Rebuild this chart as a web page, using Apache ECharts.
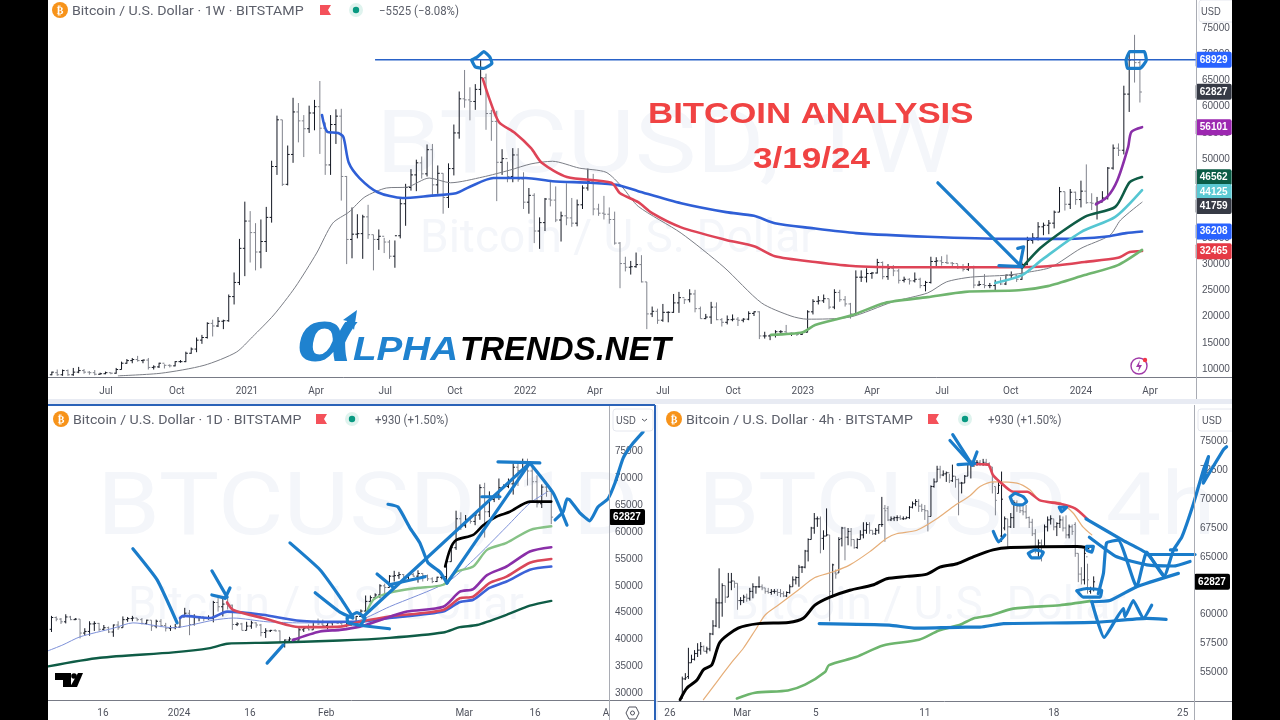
<!DOCTYPE html>
<html>
<head>
<meta charset="utf-8">
<title>Bitcoin analysis</title>
<script src="https://cdn.jsdelivr.net/npm/echarts@6/dist/echarts.min.js"></script>
<style>
  html, body { margin: 0; background: #000; }
  #main { width: 1280px; height: 720px; }
</style>
</head>
<body>
<div id="main"></div>
<script>
// bars are [open, close, low, high] in thousands of USD
// weekly, first row is the week of 27 Apr 2020
const weekBars = [
[8.9,9.4,8.8,9.5],[9.3,8.9,8.7,9.9],[8.9,9.7,8.7,9.9],[9.7,8.9,8.7,9.9],[8.9,9.4,8.7,10.2],[9.4,9.7,9.2,10.4],[9.7,9.4,9.1,10.0],[9.4,9.3,8.9,9.6],[9.3,9.0,8.8,9.8],
[9.0,9.1,8.9,9.3],[9.1,9.3,9.0,9.5],[9.3,9.2,9.0,9.3],[9.2,9.9,9.1,10.2],[9.9,11.1,9.9,11.4],[11.1,11.6,11.0,11.9],[11.6,11.8,11.1,12.1],[11.8,11.6,11.4,12.5],[11.6,11.7,11.1,11.8],[11.7,10.3,9.9,12.1],
[10.3,10.4,9.9,10.7],[10.4,11.1,10.2,11.2],[11.1,10.7,10.1,10.9],[10.7,10.6,10.3,10.9],[10.6,11.4,10.5,11.5],[11.4,11.4,11.2,11.7],[11.4,13.0,11.3,13.3],[13.0,13.8,12.9,14.1],
[13.8,15.5,13.2,16.0],[15.5,16.0,14.8,16.5],[16.0,18.7,15.8,18.9],[18.7,18.2,16.2,19.4],[18.2,19.1,18.0,19.9],[19.1,19.2,17.6,19.4],[19.2,23.8,19.0,24.2],[23.8,26.5,22.3,28.4],[26.5,33.0,26.0,34.8],
[33.0,38.2,27.7,41.9],[38.2,36.0,30.3,40.1],[36.0,32.3,28.8,37.8],[32.3,34.3,29.2,38.5],[34.3,38.9,32.3,40.9],[38.9,48.6,37.9,49.7],[48.6,57.5,47.0,58.3],[57.5,45.2,44.9,57.5],
[45.2,50.9,45.0,52.6],[50.9,59.0,49.3,61.7],[59.0,57.3,53.2,60.7],[57.3,55.8,50.4,58.4],[55.8,58.8,55.0,60.2],[58.8,60.0,55.5,61.3],[60.0,55.9,51.0,64.9],[55.9,48.9,47.0,57.0],[48.9,56.6,47.0,58.4],
[56.6,58.2,52.9,59.5],[58.2,46.7,42.1,59.6],[46.7,34.7,30.0,46.8],[34.7,35.7,31.1,40.8],[35.7,35.8,34.9,39.5],[35.8,39.0,31.0,39.4],[39.0,35.6,34.8,41.3],[35.6,34.7,28.8,35.6],[34.7,35.3,32.7,36.6],
[35.3,34.2,32.1,35.0],[34.2,31.5,31.0,34.6],[31.5,35.4,29.3,34.5],[35.4,41.5,34.9,42.4],[41.5,44.6,37.3,45.3],[44.6,47.0,44.0,48.1],[47.0,49.3,43.9,49.9],[49.3,47.2,46.3,50.5],[47.2,51.8,46.7,52.8],
[51.8,45.1,42.8,52.9],[45.1,47.3,43.4,48.8],[47.3,42.7,39.6,47.3],[42.7,48.2,40.7,49.2],[48.2,55.0,46.9,56.6],[55.0,61.5,53.9,62.9],[61.5,61.3,59.8,67.0],[61.3,61.0,57.4,63.7],
[61.0,63.3,59.4,64.3],[63.3,65.5,62.2,69.0],[65.5,58.7,55.6,66.3],[58.7,57.2,53.5,59.4],[57.2,49.4,42.0,59.2],[49.4,50.1,47.0,51.9],[50.1,46.7,45.6,49.5],[46.7,50.8,45.6,52.1],[50.8,46.2,45.7,52.1],
[46.2,41.8,40.5,47.5],[41.8,43.1,39.6,44.5],[43.1,36.3,34.0,43.5],[36.3,37.9,32.9,38.9],[37.9,42.4,36.3,42.6],[42.4,42.2,41.0,45.8],[42.2,38.4,38.0,44.8],[38.4,39.2,34.3,40.0],
[39.2,38.8,37.4,45.4],[38.8,37.8,37.1,42.6],[37.8,41.3,37.2,42.3],[41.3,44.5,40.5,45.0],[44.5,45.8,44.0,48.2],[45.8,40.5,39.3,47.2],[40.5,39.7,39.2,41.5],[39.7,39.5,38.5,43.0],[39.5,38.5,37.7,40.8],
[38.5,34.0,33.7,40.0],[34.0,30.1,25.4,34.2],[30.1,29.4,28.6,31.4],[29.4,29.5,28.0,30.6],[29.5,29.9,29.3,32.2],[29.9,26.6,26.5,31.7],[26.6,20.5,17.6,26.6],[20.5,21.0,19.9,21.9],[21.0,19.3,18.6,21.5],
[19.3,20.8,19.0,22.4],[20.8,20.8,18.9,21.0],[20.8,22.6,20.7,24.3],[22.6,23.6,20.7,24.7],[23.6,23.2,22.4,23.4],[23.2,24.3,22.7,25.2],[24.3,21.5,20.8,25.1],[21.5,19.6,19.6,21.9],[19.6,19.9,19.5,20.5],
[19.9,21.8,18.6,22.8],[21.8,19.4,19.3,22.7],[19.4,18.9,18.1,19.7],[18.9,19.4,18.5,20.2],[19.4,19.5,19.1,20.4],[19.5,19.3,18.2,19.9],[19.3,19.5,18.9,19.7],[19.5,20.6,19.3,21.0],[20.6,20.9,20.1,21.0],
[20.9,16.3,15.7,21.0],[16.3,16.3,15.8,17.1],[16.3,16.4,15.5,16.6],[16.4,17.1,16.0,17.4],[17.1,17.1,16.7,17.4],[17.1,16.8,16.5,18.4],[16.8,16.8,16.3,16.9],[16.8,16.6,16.3,16.9],
[16.6,17.0,16.5,17.0],[17.0,20.9,17.0,21.2],[20.9,22.9,20.4,23.3],[22.9,23.0,22.3,23.9],[23.0,23.4,22.6,24.2],[23.4,21.8,21.4,23.4],[21.8,24.6,21.4,25.2],[24.6,23.2,22.8,25.1],[23.2,22.4,21.9,23.9],
[22.4,20.5,19.6,22.6],[20.5,27.5,20.5,28.8],[27.5,27.5,26.6,28.8],[27.5,28.2,26.5,29.2],[28.2,28.3,27.2,28.5],[28.3,30.3,28.2,31.0],[30.3,27.6,27.1,30.5],[27.6,29.2,27.0,30.0],[29.2,28.7,27.7,29.8],
[28.7,26.9,26.3,29.1],[26.9,27.1,26.5,27.6],[27.1,26.8,26.1,27.3],[26.8,27.1,26.5,28.4],[27.1,25.9,25.4,27.4],[25.9,26.5,24.8,26.8],[26.5,30.5,26.3,31.4],[30.5,30.6,29.5,31.3],[30.6,30.3,29.7,31.5],
[30.3,30.2,30.0,31.8],[30.2,30.1,29.5,30.4],[30.1,29.3,29.1,30.0],[29.3,29.0,28.6,30.0],[29.0,29.3,28.7,30.2],[29.3,26.0,25.4,29.7],[26.0,26.1,25.8,26.8],[26.1,25.9,25.4,28.1],[25.9,25.9,25.4,26.4],
[25.9,26.5,24.9,27.0],[26.5,26.2,26.0,27.5],[26.2,27.9,26.0,28.0],[27.9,27.9,27.2,28.6],[27.9,27.1,26.6,28.0],[27.1,29.9,27.0,30.3],[29.9,34.5,29.8,35.2],[34.5,35.0,33.9,35.9],[35.0,37.1,34.5,38.0],
[37.1,37.4,35.5,37.9],[37.4,37.8,35.7,38.4],[37.8,39.9,36.8,40.2],[39.9,43.8,39.9,44.7],[43.8,41.4,40.2,43.8],[41.4,43.7,40.5,44.3],[43.7,42.3,41.3,43.8],[42.3,43.9,40.8,45.9],[43.9,41.7,41.5,49.0],
[41.7,41.6,40.3,43.5],[41.6,41.8,38.5,42.8],[41.8,42.6,41.8,43.9],[42.6,48.3,42.3,48.5],[48.3,52.1,48.0,52.8],[52.1,51.7,50.6,53.0],[51.7,62.4,50.9,64.0],[62.4,68.9,59.0,70.1],[68.9,68.4,64.6,73.7],[68.4,62.8,60.8,68.9]
];
const weekTickPos = [9.7,22.9,36,48.9,61.8,74.8,87.9,100.9,113.6,126.7,139.7,152.6,165.7,178.5,191.6,204.5];
const weekTickText = ['Jul','Oct','2021','Apr','Jul','Oct','2022','Apr','Jul','Oct','2023','Apr','Jul','Oct','2024','Apr'];
const weekPriceTicks = [10000,15000,20000,25000,30000,35000,40000,45000,50000,55000,60000,65000,70000,75000];
// moving averages as [bar, value in thousands]
const weekGrey = [[12,8.7],[20,9.2],[28,10.7],[34,13.2],[37,16.1],[41,20.3],[45,25.6],[49,32.1],[52,37.8],[55,39.9],[58,42.8],[62,44.5],[66,44.7],[70,46.4],[74,45.5],[80,46.6],[85,47.9],[89,49.1],[93,49.6],[98,48.3],[103,47.5],[106,44.7],[109,41],[117,35.9],[125,29.4],[132,22.6],[137.5,20.1],[140.5,19.5],[148.5,19.9],[156.5,22.8],[163,24.5],[166.5,26.6],[171,27.5],[178,27.9],[182,28.5],[186,29.4],[191.6,33],[197,35.5],[199,38.4],[203,41.8]];
const weekBlue = [[50,58.4],[51,55.2],[53,55],[54,54.2],[55,49.3],[57,46.4],[60.4,43.7],[65,42.6],[70,43],[75,43.5],[77.5,44.7],[82,46.4],[88,46.4],[93,45.8],[100,45.5],[105,45.1],[109,43.9],[117,41.6],[125.4,39.9],[130.6,39.2],[134.5,37.8],[141,36.9],[149.6,35.9],[163,35.2],[178,34.8],[189,34.8],[196,35.2],[200,35.9],[203,36.2]];
const weekRed = [[80,65.3],[81.3,61.3],[83,57.1],[86,55],[89,52.1],[91,49.3],[95.7,46.6],[104,45.5],[105.6,43.5],[109,41.8],[111.6,39.7],[117,37],[125.4,34.6],[130.6,33.4],[134.5,31.5],[142,30.4],[149.6,29.6],[163,29.4],[178,29.4],[185.4,29.6],[192.3,30.4],[198.5,31.2],[200.7,32.3],[203,32.5]];
const weekGreen = [[133.8,16.5],[139.7,17],[142,18.4],[149,20.3],[155,22.6],[163,23.7],[170,24.7],[180,25],[185.4,25.8],[192.3,27.9],[198.5,29.8],[203,32.7]];
const weekCyan = [[175.6,26.4],[180.6,27.9],[184.3,30.8],[191.6,36.1],[198,39],[203,44.1]];
const weekDarkGreen = [[180.6,29.3],[184.3,33.3],[192.3,39],[198,40.9],[200.7,45.6],[203,46.6]];
const weekPurple = [[194.4,41.4],[196.5,42.8],[198.4,46],[200.4,52.3],[201,55.2],[203,56.1]];
const weekResistance = [[59.9,68.929],[213,68.929]];
const weekStrokes = [
  [[77.9,68.9],[79,69.5],[80.2,70.5],[81.3,69.5],[81.7,68.3],[80.2,67.3],[78.6,67.6],[77.9,68.9]],
  [[200,68.9],[200.7,70.5],[203.4,70.5],[203.8,68.9],[202.6,67.3],[200.3,67.3],[200,68.9]],
  [[164.9,45.5],[180.5,29.5]],
  [[176.3,29.7],[180.6,29.5]],
  [[179.8,33],[180.9,33.3],[180.3,30.2]]
];
const weekTagValues = [68929,62827,56101,46562,44125,41759,36208,32465];
const weekTagLevels = [68929,62827,56101,46562,43740,41070,36208,32465];

// daily, first row is 5 Dec 2023
const dayBars = [
[41.9,44.1,41.4,44.4],[44.1,43.8,43.4,44.3],[43.8,43.3,42.9,44.0],[43.3,44.2,43.0,44.7],[44.2,43.7,43.6,44.4],[43.7,43.8,43.6,44.0],[43.8,41.2,40.2,43.8],[41.2,41.5,40.7,42.1],[41.5,42.9,40.7,43.4],
[42.9,43.0,41.6,43.4],[43.0,41.9,41.6,43.1],[41.9,42.2,41.7,42.7],[42.2,41.4,41.2,42.4],[41.4,42.7,40.5,42.8],[42.7,42.2,41.8,43.4],[42.2,43.7,42.2,44.3],[43.7,43.9,43.3,44.2],[43.9,44.0,43.4,44.4],
[44.0,43.7,43.4,44.0],[43.7,43.0,42.8,44.0],[43.0,43.6,42.8,43.7],[43.6,42.5,41.6,43.6],[42.5,43.4,42.1,43.7],[43.4,42.6,42.3,43.8],[42.6,42.1,41.5,43.1],[42.1,42.2,41.6,42.6],[42.2,42.3,41.9,42.9],
[42.3,44.2,42.2,44.2],[44.2,44.9,44.2,45.9],[44.9,42.8,40.8,45.5],[42.8,44.2,42.6,44.7],[44.2,44.2,43.4,44.3],[44.2,43.9,43.4,44.2],[43.9,43.9,43.7,44.5],[43.9,46.9,43.2,47.2],[46.9,46.1,45.2,47.9],[46.1,46.6,44.3,47.7],
[46.6,46.4,45.6,48.0],[46.4,42.8,41.8,46.5],[42.8,42.9,42.5,43.2],[42.9,41.7,41.7,43.1],[41.7,42.5,41.7,43.3],[42.5,43.1,42.0,43.5],[43.1,42.7,42.2,43.2],[42.7,41.3,40.6,42.9],[41.3,41.6,40.3,42.1],
[41.6,41.7,41.4,41.8],[41.7,41.6,41.5,41.9],[41.6,39.5,39.4,41.7],[39.5,39.9,38.5,40.0],[39.9,40.1,39.5,40.5],[40.1,39.9,39.5,40.3],[39.9,41.8,39.8,42.2],[41.8,42.1,41.4,42.2],[42.1,41.8,41.7,42.8],
[41.8,43.3,41.8,43.3],[43.3,42.9,42.7,43.9],[42.9,42.6,42.3,43.7],[42.6,43.1,41.9,43.3],[43.1,43.2,42.6,43.4],[43.2,43.0,42.9,43.4],[43.0,42.6,42.3,43.1],[42.6,42.7,42.3,43.5],[42.7,43.1,42.6,43.4],
[43.1,44.3,42.8,44.4],[44.3,45.3,44.3,45.6],[45.3,47.1,45.2,48.2],[47.1,47.8,46.8,48.2],[47.8,48.3,47.7,48.6],[48.3,50.0,47.7,50.3],[50.0,49.7,48.3,50.4],[49.7,51.8,49.7,52.0],[51.8,51.9,50.8,52.8],
[51.9,52.1,51.3,52.6],[52.1,51.6,50.6,52.2],[51.6,52.1,51.2,52.4],[52.1,51.8,51.7,52.4],[51.8,52.3,50.6,52.9],[52.3,51.9,50.8,52.4],[51.9,51.3,50.9,52.1],[51.3,50.8,50.5,51.6],[50.8,51.6,50.7,51.7],
[51.6,51.7,51.2,51.9],[51.7,54.5,50.9,54.9],[54.5,57.1,54.5,57.5],[57.1,62.5,56.7,64.0],[62.5,61.2,60.4,63.7],[61.2,62.4,60.8,63.2],[62.4,62.0,61.6,62.4],[62.0,63.2,61.3,63.2],[63.2,68.3,62.3,68.9],
[68.3,63.8,59.0,69.2],[63.8,66.1,62.8,67.6],[66.1,66.9,65.6,67.0],[66.9,68.3,66.0,70.0],[68.3,68.5,68.2,68.9],[68.5,69.0,68.2,70.0],[69.0,72.1,67.0,72.8],[72.1,71.5,68.6,72.9],[71.5,73.1,71.3,73.7],
[73.1,71.4,68.7,73.7],[71.4,69.4,65.6,72.4],[69.4,65.3,64.6,70.6],[65.3,68.4,64.5,68.9],[68.4,67.6,66.6,68.9],[67.6,62.8,61.5,68.1]
];
const dayTickPos = [-16.2,-0.2,14.7,30.7,59.7,74.6,89.5];
const dayTickText = ['16','2024','16','Feb','Mar','16','A'];
const dayThinBlue = [[-27.7,37.9],[-24.6,39],[-21,40.5],[-14,42.1],[-9.9,43.1],[-1.4,42.2],[7,43.6],[11.2,44],[18.3,43.3],[25.2,43.1],[33.6,43.1],[37.8,43.6],[44,46.1],[56,50.6],[61.6,54.8],[68.6,61],[73.5,65.4],[77,67.4]];
const dayBlack = [[55.7,53.6],[56.7,56.7],[58,58.5],[61.6,59.5],[63.7,61.3],[66.5,62.9],[69.3,63.8],[73.5,65.7],[78,65.7]];
const dayLightGreen = [[38.4,43.3],[40.6,47.4],[44,48.7],[49.8,49.6],[55.3,50.2],[58,52.6],[61.6,53.6],[64.5,56.7],[68.6,58],[73.5,60.4],[78,61.1]];
const dayPurple = [[23.7,39.9],[29.4,41.5],[33.6,41.8],[37.8,42.4],[42,43.6],[47.7,45.2],[55.3,46.1],[58.8,48.9],[61.6,49.4],[64.5,52],[68.6,53.6],[73.5,56.4],[78,57.2]];
const dayRed = [[9.9,46.9],[11.2,45.5],[17.4,44],[25.2,42.3],[33.6,42.4],[37.8,43.3],[44,44.3],[55.3,45.5],[58.8,47.7],[61.6,48],[65,50.5],[68.6,51.7],[73.5,54.3],[78,55]];
const dayBlue = [[0,44],[0.7,44.4],[6.3,44],[9.9,45.2],[17.4,44.6],[25.2,43.5],[33.6,43.3],[37.8,43.3],[44,44],[55.3,45.2],[58.8,47],[61.6,47.4],[65,49.6],[68.6,50.8],[73.5,53],[78,53.6]];
const dayDarkGreen = [[-27.7,35],[-16.8,36.6],[-1.4,37.6],[6.3,38.4],[9.9,39.2],[18.3,39.4],[33.6,39.8],[44,40.3],[55.3,41.3],[58.8,42.3],[62.4,42.7],[68.6,44.6],[73.5,46.3],[78,47.2]];
const dayStrokes = [
  [[-9.9,56.9],[-4.8,51.1],[-0.6,43.1]],
  [[6.7,52.8],[9.9,47.9]],
  [[6.7,48.3],[9.5,47.7]],
  [[10.5,49.6],[9.5,47.7]],
  [[18.3,35.6],[21.7,39]],
  [[23.1,58],[29.4,53],[33.6,47.9],[36.3,44.2]],
  [[28.4,48.7],[33.6,45.1],[36.3,44]],
  [[35.1,44],[37.2,45],[38.9,44],[37.8,42.7],[35.3,43.1],[35.1,44]],
  [[38.4,44.2],[73.5,72.9]],
  [[37.2,42.7],[44,42]],
  [[66.8,73.1],[75.6,72.9]],
  [[56.1,50.5],[73.5,72.9]],
  [[41.4,52.2],[44.7,49.8]],
  [[44,50.2],[51.5,51.7]],
  [[43.7,65.2],[45.8,64.7],[48.3,60.8],[50.4,58],[52.1,54.3],[54.6,52.6],[56.1,50.5]],
  [[63.4,66.6],[67.2,66.6]],
  [[73.5,72.9],[78.4,67.3],[81.3,61.3]],
  [[78.8,62.3],[80.5,63.8],[81.3,66.2],[81.9,66],[84,63.6],[86.1,62.1],[87.8,64.7],[89.9,66.2],[91.4,69.2],[93.1,73.8],[95.2,76.6],[97.3,78.7]]
];

// 4 hour, first row is bar 4 (26 Feb 16:00)
const hourBars = [
[52.7,54.4,52.7,54.6],[54.4,54.5,54.3,54.9],[54.6,55.8,54.4,57.1],[55.8,56.1,55.8,56.5],[56.1,56.6,56.0,56.9],[56.6,56.9,56.3,57.5],[56.9,57.2,56.5,57.6],[57.2,56.8,56.8,57.3],[56.8,57.0,56.6,57.2],
[57.0,58.3,56.8,58.4],[58.3,59.0,58.2,59.5],[59.0,61.0,58.9,61.4],[61.0,61.0,58.8,64.0],[61.0,62.5,59.8,62.7],[62.5,61.5,61.0,62.5],[61.5,62.8,61.5,63.6],[62.8,62.9,62.1,63.6],[62.9,62.7,62.3,62.9],
[62.7,61.2,60.4,62.7],[61.2,61.2,60.8,61.5],[61.2,61.5,61.0,61.7],[61.5,61.4,61.1,61.8],[61.4,62.0,61.2,62.3],[62.0,62.4,61.4,62.7],[62.4,62.4,61.8,62.4],[62.4,62.4,62.3,63.3],[62.4,62.3,62.1,62.6],
[62.3,62.0,61.8,62.3],[62.0,61.9,61.8,62.3],[61.9,62.0,61.7,62.2],[62.0,62.0,61.8,62.2],[62.0,61.9,61.6,62.2],[61.9,61.8,61.5,62.2],[61.8,61.6,61.5,62.0],[61.6,61.9,61.5,62.0],[61.9,62.4,61.8,62.6],
[62.4,63.0,62.4,63.3],[63.0,63.2,62.6,63.3],[63.2,64.1,62.4,64.3],[64.1,64.1,63.6,64.2],[64.1,65.5,64.0,65.6],[65.5,66.5,64.6,66.6],[66.5,67.5,66.5,67.6],[67.5,68.3,67.0,68.8],[68.3,68.3,67.6,68.5],
[68.3,66.6,65.3,68.5],[66.6,66.8,65.6,67.3],[66.8,66.9,66.8,69.2],[66.9,62.0,59.4,66.9],[61.5,64.3,61.5,64.4],[63.6,63.5,63.1,63.9],[63.6,66.5,63.6,66.7],[66.6,67.5,65.9,67.6],[67.5,66.7,64.7,67.6],
[66.7,67.2,66.0,67.5],[67.2,66.5,65.9,67.5],[66.5,65.8,65.7,66.5],[65.8,66.5,65.7,66.6],[66.5,66.9,66.5,67.3],[66.9,67.3,66.6,68.0],[67.3,67.8,67.0,68.0],[67.8,67.3,67.0,68.0],[67.3,67.0,66.9,67.3],
[67.0,67.3,66.9,67.5],[67.3,67.8,67.0,67.8],[67.8,67.8,67.6,70.2],[69.2,69.0,66.3,69.5],[69.2,68.2,68.1,69.4],[68.2,68.3,68.1,68.5],[68.3,68.4,68.1,68.5],[68.4,68.4,68.1,68.6],[68.4,68.3,68.2,68.6],
[68.3,68.3,68.2,68.5],[68.3,68.4,68.3,68.5],[68.4,69.3,68.3,69.4],[69.3,69.6,69.2,69.8],[69.6,69.8,69.4,70.0],[69.8,69.4,68.9,70.0],[69.4,69.1,68.9,69.6],[69.1,69.0,68.2,69.5],[69.0,68.5,67.2,69.0],
[68.5,71.1,68.5,71.2],[71.1,71.5,71.0,71.8],[71.5,72.6,71.5,72.9],[72.6,72.1,71.8,72.9],[72.1,72.2,72.0,72.5],[72.2,72.3,71.5,72.4],[72.3,71.6,71.4,72.2],[71.6,72.0,71.5,73.0],[72.0,71.7,71.0,72.0],
[71.7,71.4,68.6,71.8],[71.4,71.4,70.5,71.5],[71.4,72.0,71.4,72.1],[72.0,73.0,72.0,73.1],[73.0,73.1,71.8,73.4],[73.1,73.2,72.8,73.5],[73.2,73.2,72.9,73.4],[73.2,73.1,72.9,73.4],[73.1,73.2,72.9,73.5],
[73.2,73.1,72.9,73.5],[73.1,72.8,72.7,73.2],[72.8,71.4,70.5,72.8],[71.1,69.9,68.6,71.1],[70.5,71.2,70.5,71.7],[66.8,70.0,66.3,72.4],[67.5,68.3,67.3,68.5],[68.3,67.6,65.7,68.3],[67.6,68.4,67.5,68.8],
[68.4,69.7,67.5,69.9],[69.7,69.4,68.9,69.9],[69.4,69.0,68.8,69.5],[69.0,68.9,68.6,69.5],[68.9,68.4,68.3,69.5],[68.4,68.0,67.5,68.5],[68.0,67.0,66.8,68.3],[67.0,65.8,65.3,67.4],[65.8,66.2,65.0,66.5],
[66.2,65.9,64.6,66.5],[65.9,67.6,65.9,67.8],[67.6,68.2,67.2,68.5],[68.2,68.3,67.8,68.6],[68.3,67.6,67.3,68.3],[67.6,67.9,66.8,68.0],[67.9,68.2,67.5,68.6],[68.2,67.5,67.2,68.5],[67.5,66.9,66.6,68.6],
[66.9,67.6,66.6,67.8],[67.6,67.2,66.9,67.8],[67.8,65.3,65.0,68.0],[65.3,63.5,62.8,65.3],[63.5,63.0,62.6,64.1],[63.0,65.3,62.6,65.7],[65.0,63.0,61.8,64.4],[62.0,62.2,61.8,62.4],[62.2,62.83,62.0,63.3]
];
const hourTickPos = [0,23.5,47.5,83,125,167];
const hourTickText = ['26','Mar','5','11','18','25'];
const hourTan = [[10.9,52.6],[15.7,54.3],[20.6,56],[23.9,57.06],[27.7,58.6],[31,59.95],[35.2,60.8],[41.7,62.1],[47.2,63.2],[53.2,63.7],[58.6,64.3],[65.1,65.45],[70.6,66.6],[73.8,67],[80.4,67.3],[86.9,68.3],[92.2,69.35],[97.7,70.3],[101,71.1],[105.4,71.5],[113,71.4],[117.3,70.8],[120.5,69.9],[127,69.7],[131.3,68.8],[134.5,67.6],[137.4,66.9]];
const hourBlack = [[3.3,52.6],[5.5,53.6],[8.8,54.3],[10.9,55.2],[13.6,55.6],[16.3,57.6],[22.2,58.8],[28.8,59.2],[38.6,59.3],[43.4,59.66],[47.2,60.8],[52.1,61.5],[58.6,62.1],[66,62.55],[70.6,63.1],[77.2,63.3],[83.7,63.5],[87.9,64.1],[93.5,64.4],[98.8,65],[105.2,65.6],[110.8,65.8],[132.6,65.9],[136.2,65.8]];
const hourGreen = [[21.8,52.7],[27.7,53.2],[38.4,53.4],[44,53.9],[50.5,55],[51.8,55.6],[60.6,56.3],[69.4,57.3],[81.1,57.8],[87.6,58.6],[94.5,59.1],[98.8,59.65],[104.2,59.9],[111.8,60.5],[127,60.8],[136.8,61.15]];
const hourRed = [[97.7,73.05],[103.6,73],[105.2,72.1],[107.5,71.5],[111.8,70.65],[116.3,70.65],[120.5,69.9],[127,69.6],[131.9,69.2],[136.2,68.2]];
const hourStrokes = [
  [[48.6,59.2],[71.4,59.07],[80.1,58.8],[96.4,58.9],[101,58.9],[108.6,59.2],[137.9,59.3],[155.3,59.65],[161.6,59.56]],
  [[92.1,75.6],[98.4,72.97]],
  [[91.2,75.1],[98.4,72.97]],
  [[93.8,73],[99.3,73.1]],
  [[98.4,72.97],[100,74.1]],
  [[110.8,70.2],[112.4,70.5],[115.1,70.2],[116.2,69.8],[114.6,69.5],[111.8,69.6],[110.8,70.2]],
  [[105.3,67.2],[107,66.3],[109.1,66.9]],
  [[116.7,65.3],[118.9,65.6],[121.6,65.4],[120.5,64.9],[117.8,64.9],[116.7,65.3]],
  [[126.8,69.3],[129.2,69.3],[127.6,68.9],[126.8,69.3]],
  [[135.7,65.9],[137.9,65.9],[137.4,65.4],[135.7,65.6],[135.7,65.9]],
  [[132.5,62.05],[135.7,62.25],[140.6,62.1],[140.1,61.5],[134.6,61.5],[132.5,62.05]],
  [[135.5,68.3],[147.7,66.4],[155.3,65.3],[160.7,63.4]],
  [[136.6,66.7],[145.5,65],[155.3,64.3],[164,64.2],[169.4,64.6]],
  [[155.3,65.2],[171,65.2]],
  [[137.4,61.1],[143.3,61.2],[152,62.4],[165.6,63.56]],
  [[139.5,61.8],[141.2,63.6],[142.2,66.2],[146,66.45],[152,62.4],[155.3,65.4],[160.9,63.3],[164,65.6],[166.7,66.7],[170.5,69.6],[173.7,72.5],[175.4,73.7],[173.7,71.4],[180.3,74.3],[181.3,74.55]],
  [[137.4,61.1],[141.4,58],[147.7,60.5],[148.2,59.8],[150.9,61.2],[154.2,59.65],[156.9,60.8]],
  [[163,65.6],[165,65.6]]
];

const lastPrice = 62827;

const FONT = 'Roboto, "Liberation Sans", sans-serif';
const LIB = '"Liberation Sans", sans-serif';
const UP = '#131722', DOWN = '#80838c', INK = '#1a7cca';
const WEEK_TAG_COLORS = ['#2962ff','#363a45','#9c27b0','#0b5c46','#5cc9d3','#363a45','#2962ff','#e53945'];

function bars(rows, first) {
  return rows.map((r, i) => [first + i].concat(r.map(v => v * 1000)));
}
function points(list) {
  return list.map(p => [p[0], p[1] * 1000]);
}

function barSeries(rows, first, panel, tick) {
  return {
    type: 'custom', xAxisIndex: panel, yAxisIndex: panel, clip: true, z: 3,
    data: bars(rows, first),
    encode: { x: 0, y: [1, 2, 3, 4] },
    renderItem: (params, api) => {
      const i = api.value(0), o = api.value(1), c = api.value(2);
      const top = api.coord([i, api.value(4)]), low = api.coord([i, api.value(3)]);
      const yo = api.coord([i, o])[1], yc = api.coord([i, c])[1];
      const style = { stroke: c >= o ? UP : DOWN, lineWidth: 1 };
      const line = (x1, y1, x2, y2) => ({ type: 'line', shape: { x1, y1, x2, y2 }, style });
      return { type: 'group', children: [
        line(top[0], top[1], low[0], low[1]),
        line(top[0] - tick, yo, top[0], yo),
        line(top[0], yc, top[0] + tick, yc)
      ] };
    }
  };
}

function lineSeries(list, color, width, panel, z, free) {
  return {
    type: 'line', xAxisIndex: panel, yAxisIndex: panel, data: points(list),
    showSymbol: false, symbol: 'none', smooth: 0.25, silent: true,
    clip: !free, z: z || 4, animation: false,
    lineStyle: { color, width, cap: 'round', join: 'round' }
  };
}

function inkSeries(strokes, panel, width) {
  return strokes.map(s => {
    const one = lineSeries(s, INK, width, panel, 8, true);
    one.smooth = s.length > 2 ? 0.15 : false;
    return one;
  });
}

function tagSeries(values, levels, colors, panel, edge, width, font) {
  return {
    type: 'custom', xAxisIndex: panel, yAxisIndex: panel, clip: false, z: 10,
    data: values.map((v, i) => [edge, levels[i], v]),
    encode: { x: 0, y: 1 },
    renderItem: (params, api) => {
      const p = api.coord([api.value(0), api.value(1)]);
      return { type: 'group', children: [
        { type: 'rect', shape: { x: p[0], y: p[1] - 8, width, height: 16, r: 2 }, style: { fill: colors[params.dataIndex] } },
        { type: 'text', style: { x: p[0] + width / 2, y: p[1], text: String(api.value(2)), fill: '#fff', font, align: 'center', verticalAlign: 'middle' } }
      ] };
    }
  };
}

function xAxis(panel, min, max, pos, text, offset, margin) {
  return {
    type: 'value', gridIndex: panel, min, max, offset,
    splitLine: { show: false }, axisTick: { show: false },
    axisLine: { show: true, onZero: false, lineStyle: { color: '#787b86', width: 1 } },
    axisLabel: {
      customValues: pos, color: '#50535e', fontFamily: FONT, fontSize: 10, margin,
      formatter: v => text[pos.indexOf(v)]
    }
  };
}

function yAxis(panel, min, max, interval, low, high, offset) {
  return {
    type: 'value', position: 'right', gridIndex: panel, min, max, interval, offset,
    splitLine: { show: false }, axisTick: { show: false }, axisLine: { show: false },
    axisLabel: {
      color: '#50535e', fontFamily: LIB, fontSize: 10, margin: 6, align: 'left',
      formatter: v => (v < low || v > high ? '' : String(v))
    }
  };
}

// header row of a panel: coin badge, title, flag, status dot, change
function header(x, y, title, flagX, dotX, changeX, change) {
  return [
    { type: 'circle', shape: { cx: x, cy: y, r: 8 }, style: { fill: '#f7931a' } },
    { type: 'text', x, y: y + 1, style: { text: '₿', fill: '#fff', font: 'bold 10px "DejaVu Sans"', align: 'center', verticalAlign: 'middle' } },
    { type: 'text', x: x + 12, y: y + 2, scaleX: 1.09, style: { text: title, fill: '#5d606b', font: '13px ' + FONT, verticalAlign: 'middle' } },
    { type: 'polygon', shape: { points: [[flagX, y - 5], [flagX + 11, y - 5], [flagX + 8, y], [flagX + 11, y + 5], [flagX, y + 5]] }, style: { fill: '#f4515a' } },
    { type: 'circle', shape: { cx: dotX, cy: y, r: 7 }, style: { fill: '#dff3ee' } },
    { type: 'circle', shape: { cx: dotX, cy: y, r: 3.2 }, style: { fill: '#089981' } },
    { type: 'text', x: changeX, y: y + 2, scaleX: 0.95, style: { text: change, fill: '#5d606b', font: '12px ' + FONT, verticalAlign: 'middle' } }
  ];
}

function watermark(x, y, big, scale, small, smallX, smallY) {
  const color = '#f4f6fa';
  return [
    { type: 'text', x, y, z: -1, scaleX: scale, style: { text: big, fill: color, font: '88px ' + FONT, verticalAlign: 'middle' } },
    { type: 'text', x: smallX, y: smallY, z: -1, style: { text: small, fill: color, font: '46px ' + FONT, verticalAlign: 'middle' } }
  ];
}

function usdButton(x, y, w, tx) {
  return [
    { type: 'rect', z: 60, shape: { x, y, width: w, height: 22, r: 3 }, style: { fill: '#fff', stroke: '#e6e8ef' } },
    { type: 'text', z: 61, x: tx, y: y + 12, scaleX: 0.85, style: { text: 'USD', fill: '#50535e', font: '11px ' + LIB, verticalAlign: 'middle' } }
  ];
}

function vline(x, y1, y2, color, width) {
  return { type: 'line', z: 50, shape: { x1: x, y1, x2: x, y2 }, style: { stroke: color, lineWidth: width || 1 } };
}
function hline(x1, x2, y, color, width) {
  return { type: 'line', z: 50, shape: { x1, y1: y, x2, y2: y }, style: { stroke: color, lineWidth: width || 1 } };
}

const chart = echarts.init(document.getElementById('main'));

const graphics = [].concat(
  [{ type: 'rect', z: -2, shape: { x: 48, y: 0, width: 1184, height: 720 }, style: { fill: '#fff' } }],
  watermark(376, 150, 'BTCUSD, 1W', 1.18, 'Bitcoin / U.S. Dollar', 420, 240),
  watermark(97, 512, 'BTCUSD, 1D', 1.15, 'Bitcoin / U.S. Dollar', 128, 607),
  watermark(698, 512, 'BTCUSD, 4h', 1.12, 'Bitcoin / U.S. Dollar', 730, 607),
  header(60, 10, 'Bitcoin / U.S. Dollar · 1W · BITSTAMP', 320, 356, 379, '−5525 (−8.08%)'),
  header(61, 419, 'Bitcoin / U.S. Dollar · 1D · BITSTAMP', 316, 352, 375, '+930 (+1.50%)'),
  header(674, 419, 'Bitcoin / U.S. Dollar · 4h · BITSTAMP', 928, 965, 988, '+930 (+1.50%)'),
  [
    // panel frames
    { type: 'rect', z: 49, shape: { x: 48, y: 399, width: 1184, height: 5 }, style: { fill: '#e8ebf3' } },
    { type: 'rect', z: 49, shape: { x: 609.5, y: 702, width: 45, height: 18 }, style: { fill: '#fff' } },
    vline(1196.5, 0, 399, '#a9acb4'),
    vline(609.5, 405, 720, '#a9acb4'),
    vline(1194.5, 405, 720, '#a9acb4'),
    hline(48, 655, 405, '#2a62b8', 2),
    vline(655, 405, 720, '#2a62b8', 2),
    vline(657, 405, 720, '#dfe6f5', 1),
    // big titles
    { type: 'text', z: 30, x: 648, y: 115, scaleX: 1.16, style: { text: 'BITCOIN ANALYSIS', fill: '#f04343', font: 'bold 30px "Liberation Sans"', verticalAlign: 'middle' } },
    { type: 'text', z: 30, x: 753, y: 160, scaleX: 1.17, style: { text: '3/19/24', fill: '#f04343', font: 'bold 30px "Liberation Sans"', verticalAlign: 'middle' } },
    // logo
    { type: 'text', z: 30, x: 297, y: 341, scaleX: 1.25, style: { text: 'α', fill: '#1f82cf', font: 'italic bold 74px "Liberation Sans"', verticalAlign: 'middle' } },
    { type: 'polygon', z: 30, shape: { points: [[357, 310], [354, 330], [351, 325], [340, 348], [336, 344], [347, 321], [343, 320]] }, style: { fill: '#1f82cf' } },
    { type: 'text', z: 31, x: 353, y: 351, scaleX: 1.17, style: { text: 'LPHA', fill: '#1f82cf', font: 'italic bold 33px "Liberation Sans"', verticalAlign: 'middle' } },
    { type: 'text', z: 31, x: 460, y: 351, style: { text: 'TRENDS.NET', fill: '#000', font: 'italic bold 33px "Liberation Sans"', verticalAlign: 'middle' } },
    // replay icon
    { type: 'circle', z: 30, shape: { cx: 1139, cy: 366, r: 8 }, style: { fill: 'none', stroke: '#a03aa8', lineWidth: 1.4 } },
    { type: 'polygon', z: 30, shape: { points: [[1140, 360], [1136, 367], [1139, 367], [1138, 372], [1142, 365], [1139, 365]] }, style: { fill: '#a03aa8' } },
    { type: 'circle', z: 31, shape: { cx: 1145, cy: 360, r: 2.2 }, style: { fill: '#f23645' } },
    // tradingview mark
    { type: 'polygon', z: 30, shape: { points: [[55, 673], [71, 673], [71, 687], [63, 687], [63, 680], [55, 680]] }, style: { fill: '#000' } },
    { type: 'circle', z: 30, shape: { cx: 74, cy: 676, r: 2.8 }, style: { fill: '#000' } },
    { type: 'polygon', z: 30, shape: { points: [[78, 673], [83, 673], [77, 687], [70, 687]] }, style: { fill: '#000' } },
    // settings
    { type: 'polygon', z: 60, shape: { points: [[626, 713], [629, 707], [636, 707], [639, 713], [636, 719], [629, 719]] }, style: { fill: '#fff', stroke: '#50535e' } },
    { type: 'circle', z: 61, shape: { cx: 632.5, cy: 713, r: 2 }, style: { fill: '#fff', stroke: '#50535e' } }
  ],
  usdButton(1199, 0, 40, 1201),
  usdButton(613, 409, 40, 616),
  usdButton(1198, 409, 40, 1202),
  [
    { type: 'polyline', z: 61, shape: { points: [[642, 419], [644.5, 421], [647, 419]] }, style: { fill: 'none', stroke: '#50535e' } },
    // black sides of the video frame
    { type: 'rect', z: 90, shape: { x: 0, y: 0, width: 48, height: 720 }, style: { fill: '#000' } },
    { type: 'rect', z: 90, shape: { x: 1232, y: 0, width: 48, height: 720 }, style: { fill: '#000' } }
  ]
);

const series = [].concat(
  [barSeries(weekBars, -0.4, 0, 2)],
  [lineSeries(weekGrey, '#7b7e86', 1, 0), lineSeries(weekBlue, '#2f5fd6', 2.6, 0), lineSeries(weekRed, '#de4457', 2.6, 0),
   lineSeries(weekGreen, '#70b56f', 2.6, 0), lineSeries(weekCyan, '#55c6d2', 2.6, 0), lineSeries(weekDarkGreen, '#0f5c46', 2.6, 0), lineSeries(weekPurple, '#8a2fa8', 2.6, 0)],
  [{ type: 'line', xAxisIndex: 0, yAxisIndex: 0, data: points(weekResistance), symbol: 'none', z: 5, lineStyle: { color: '#2962c8', width: 1.5 } }],
  inkSeries(weekStrokes, 0, 3.2),
  [tagSeries(weekTagValues, weekTagLevels, WEEK_TAG_COLORS, 0, 213, 36, 'bold 10px ' + LIB)],

  [barSeries(dayBars, -27, 1, 1.8)],
  [lineSeries(dayThinBlue, '#7d90d8', 1, 1), lineSeries(dayDarkGreen, '#0f5c46', 2.4, 1), lineSeries(dayBlue, '#3c62d8', 2.6, 1), lineSeries(dayRed, '#d9475a', 2.6, 1),
   lineSeries(dayPurple, '#8a2fa8', 2.6, 1), lineSeries(dayLightGreen, '#86c286', 2.4, 1), lineSeries(dayBlack, '#000', 2.6, 1)],
  inkSeries(dayStrokes, 1, 3.2),
  [tagSeries([lastPrice], [lastPrice], ['#000'], 1, 90.13, 36, 'bold 10px ' + LIB)],

  [barSeries(hourBars, 4, 2, 1.4)],
  [lineSeries(hourTan, '#e6ae78', 1.2, 2), lineSeries(hourBlack, '#000', 3, 2), lineSeries(hourGreen, '#6db56d', 2.6, 2), lineSeries(hourRed, '#df4557', 2.6, 2)],
  inkSeries(hourStrokes, 2, 3.2),
  [tagSeries([lastPrice], [lastPrice], ['#000'], 2, 170.68, 36, 'bold 10px ' + LIB)]
);

chart.setOption({
  animation: false,
  backgroundColor: '#000',
  grid: [
    { left: 48, top: 1.78, width: 1184, height: 393.45 },
    { left: 48, top: 398, width: 607, height: 322 },
    { left: 657, top: 384, width: 575, height: 316.8 }
  ],
  xAxis: [
    xAxis(0, -1.12, 219.78, weekTickPos, weekTickText, -18.2, 9),
    xAxis(1, -27.73, 99.79, dayTickPos, dayTickText, -20, 8),
    xAxis(2, -4.23, 183.06, hourTickPos, hourTickText, 0, 8)
  ],
  yAxis: [
    yAxis(0, 5000, 80000, 5000, weekPriceTicks[0], weekPriceTicks[weekPriceTicks.length - 1], -36),
    yAxis(1, 25000, 85000, 5000, 30000, 75000, -46),
    yAxis(2, 52500, 80000, 2500, 55000, 75000, -38)
  ],
  graphic: { elements: graphics },
  series
});
</script>
</body>
</html>
